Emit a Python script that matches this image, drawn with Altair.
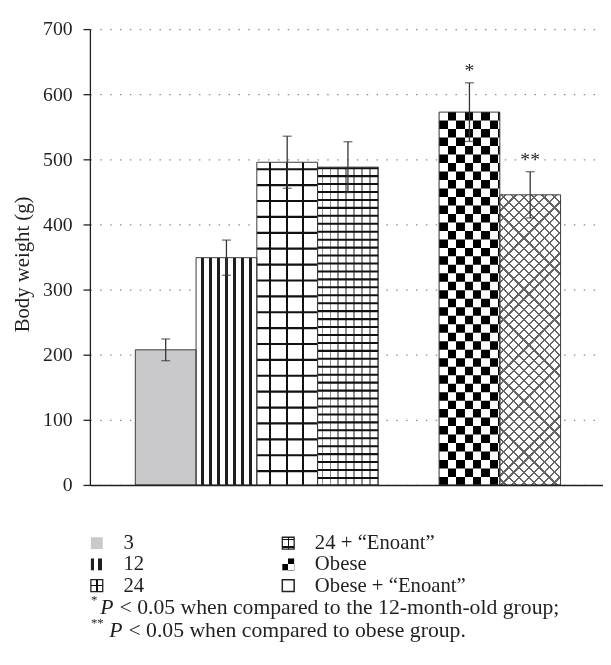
import math
import altair as alt
import pandas as pd

# ---------------- data ----------------
groups = ["3", "12", "24", "24E", "Obese", "ObeseE"]
means = [207.5, 349.0, 495.5, 488.0, 572.5, 445.5]
errors = [16.7, 27.0, 40.0, 39.0, 45.0, 35.5]
stars = ["", "", "", "", "*", "**"]
slots = ["3", "12", "24", "24E", " ", "Obese", "ObeseE"]
y_ticks = [0, 100, 200, 300, 400, 500, 600, 700]

legend_groups = ["3", "12", "24", "24E", "Obese", "ObeseE"]
legend_labels = ["3", "12", "24", "24 + \u201cEnoant\u201d", "Obese", "Obese + \u201cEnoant\u201d"]
legend_col = [0, 0, 0, 1, 1, 1]
legend_row = [0, 1, 2, 0, 1, 2]
note_marks = ["*", "**"]
note_texts = ["< 0.05 when compared to the 12-month-old group;",
              "< 0.05 when compared to obese group."]

# ---------------- layout / style ----------------
W, H = 520, 462
YMAX = 700
PO, AL = 0.723, 0.517
BW = W / (len(slots) + 2 * PO)
FONT = "Liberation Serif"
FS = 20
LFS = 21
NFS = 22
INK = "#231f20"
ERR = "#333333"
TR = "rgba(255,255,255,0)"

df = pd.DataFrame({"group": groups, "mean": means, "err": errors, "star": stars})
df["lo"] = df["mean"] - df["err"]
df["hi"] = df["mean"] + df["err"]
hmap = {g: m / YMAX * H for g, m in zip(groups, means)}


def stripes(length, start, period, thick, on, off):
    st = [(0.0, off)]
    p = start
    while p < length:
        a = max(p, 0) / length
        b = min(p + thick, length) / length
        st += [(a, off), (a, on), (b, on), (b, off)]
        p += period
    st.append((1.0, off))
    return [{"offset": round(o, 5), "color": c} for o, c in st]


def lin(stops, x1, y1, x2, y2):
    return {"gradient": "linear", "stops": stops, "x1": x1, "y1": y1, "x2": x2, "y2": y2}


def diag(w, h, spacing, thick, on, off, down):
    r = h / w
    lam = (1 + r) / (1 + r * r)
    L = (w + h) / math.sqrt(2)
    st = stripes(L, spacing / 2, spacing, thick, on, off)
    if down:
        return lin(st, 0, 1, lam, 1 - lam * r)
    return lin(st, 0, 0, lam, lam * r)


x_enc = alt.X("group:N",
              scale=alt.Scale(domain=slots, paddingInner=0, paddingOuter=PO, align=AL),
              axis=alt.Axis(title=None, labels=False, ticks=False, grid=False,
                            domainColor=INK, domainWidth=1.5, zindex=2))
y_scale = alt.Scale(domain=[0, YMAX], nice=False)
y_axis = alt.Axis(title="Body weight (g)", values=y_ticks, grid=True, gridColor="#8a8a8a",
                  gridDash=[1.5, 8.5], gridWidth=1.3, domainColor=INK, domainWidth=1.3,
                  tickColor=INK, tickWidth=1.3, tickSize=7, labelFont=FONT, labelFontSize=FS,
                  labelColor=INK, labelPadding=11, titleFont=FONT, titleFontSize=FS + 1,
                  titleFontWeight="normal", titleColor=INK, titleX=-68, titleY=238,
                  titleBaseline="middle", titleAngle=270)


def Y(field):
    return alt.Y(f"{field}:Q", scale=y_scale, axis=y_axis)


base = alt.Chart(df)


def bar(g, **kw):
    return base.transform_filter(alt.datum.group == g).mark_bar(**kw).encode(x=x_enc, y=Y("mean"))


def hlines(g, color, period, thick, offset=0.0, **kw):
    # horizontal lines across the bar: a dashed rule as wide as the bar
    return base.transform_filter(alt.datum.group == g).mark_rule(
        color=color, strokeWidth=BW, strokeCap="butt",
        strokeDash=[thick, period - thick], strokeDashOffset=offset, **kw
    ).encode(x=x_enc, y=Y("mean"), y2=alt.datum(0))


layers = [
    bar("3", fill="#c9c9cb"),
    bar("12", fill=lin(stripes(BW, 5, 8.1, 3.3, "#1e1e1e", "#ffffff"), 0, 0, 1, 0)),
    bar("24", fill=lin(stripes(BW, 12.6, 16.6, 2.2, "#111111", "#ffffff"), 0, 0, 1, 0)),
    hlines("24", "#111111", 16.1, 2.2, offset=-6.0),
    bar("24E", fill=lin(stripes(BW, 4, 8.1, 2.0, "#8f8f8f", "#ffffff"), 0, 0, 1, 0)),
    hlines("24E", "#111111", 8.05, 2.1),
    bar("Obese", fill=lin(stripes(BW, 0, 17.2, 8.6, "#000000", "#ffffff"), 0, 0, 1, 0)),
    hlines("Obese", "#ffffff", 17.2, 8.6, blend="difference"),
    bar("ObeseE", fill="#ffffff"),
    bar("ObeseE", fill=diag(BW, hmap["ObeseE"], 7.3, 1.6, "#666666", TR, True)),
    bar("ObeseE", fill=diag(BW, hmap["ObeseE"], 7.3, 1.6, "#666666", TR, False)),
    base.mark_bar(fillOpacity=0, stroke="#3a3a3a", strokeWidth=1).encode(x=x_enc, y=Y("mean")),
    base.mark_rule(color=ERR, strokeWidth=1.3).encode(x=x_enc, y=Y("lo"), y2="hi:Q"),
    base.mark_tick(color=ERR, thickness=1.3, size=9).encode(x=x_enc, y=Y("lo")),
    base.mark_tick(color=ERR, thickness=1.3, size=9).encode(x=x_enc, y=Y("hi")),
    base.mark_text(font=FONT, fontSize=FS, color=INK, baseline="alphabetic", dy=-6).encode(
        x=x_enc, y=Y("hi"), text="star:N"),
]
bars = alt.layer(*layers)

# ---------------- legend ----------------
ldf = pd.DataFrame({"group": legend_groups, "label": legend_labels,
                    "col": legend_col, "row": legend_row})
lx = alt.X("col:Q", scale=alt.Scale(domain=[0, 1], range=[7, 201], nice=False, zero=False), axis=None)
ly = alt.Y("row:Q", scale=alt.Scale(domain=[0, 2], range=[521, 564], nice=False, zero=False), axis=None)
lbase = alt.Chart(ldf)


def sw(g, **kw):
    return lbase.transform_filter(alt.datum.group == g).mark_square(
        size=144, opacity=1, **kw).encode(x=lx, y=ly)


cross_stops = [{"offset": 0, "color": TR}, {"offset": 0.44, "color": TR},
               {"offset": 0.44, "color": "#111"}, {"offset": 0.56, "color": "#111"},
               {"offset": 0.56, "color": TR}, {"offset": 1, "color": TR}]
brick_stops = [{"offset": 0, "color": TR}, {"offset": 0.12, "color": TR},
               {"offset": 0.12, "color": "#111"}, {"offset": 0.26, "color": "#111"},
               {"offset": 0.26, "color": TR}, {"offset": 0.74, "color": TR},
               {"offset": 0.74, "color": "#111"}, {"offset": 0.88, "color": "#111"},
               {"offset": 0.88, "color": TR}, {"offset": 1, "color": TR}]
half_v = [{"offset": 0, "color": "#fff"}, {"offset": 0.5, "color": "#fff"},
          {"offset": 0.5, "color": "#000"}, {"offset": 1, "color": "#000"}]
half_h = [{"offset": 0, "color": "#000"}, {"offset": 0.5, "color": "#000"},
          {"offset": 0.5, "color": "#fff"}, {"offset": 1, "color": "#fff"}]
two_bars = [{"offset": 0, "color": "#1e1e1e"}, {"offset": 0.3, "color": "#1e1e1e"},
            {"offset": 0.3, "color": "#fff"}, {"offset": 0.6, "color": "#fff"},
            {"offset": 0.6, "color": "#1e1e1e"}, {"offset": 0.9, "color": "#1e1e1e"},
            {"offset": 0.9, "color": "#fff"}, {"offset": 1, "color": "#fff"}]

legend_layers = [
    sw("3", fill="#c9c9cb"),
    sw("12", fill=lin(two_bars, 0, 0, 1, 0)),
    sw("24", fill="#ffffff", stroke="#222", strokeWidth=1.3),
    sw("24", fill=lin(cross_stops, 0, 0, 1, 0)),
    sw("24", fill=lin(cross_stops, 0, 0, 0, 1)),
    sw("24E", fill="#ffffff", stroke="#222", strokeWidth=1.3),
    sw("24E", fill=lin(brick_stops, 0, 0, 0, 1)),
    sw("24E", fill=lin(cross_stops, 0, 0, 1, 0)),
    sw("Obese", fill=lin(half_v, 0, 0, 1, 0)),
    sw("Obese", fill=lin(half_h, 0, 0, 0, 1), blend="difference"),
    sw("ObeseE", fill="#ffffff", stroke="#222", strokeWidth=1.5),
    lbase.mark_text(align="left", baseline="middle", dx=27, font=FONT, fontSize=LFS,
                    color=INK).encode(x=lx, y=ly, text="label:N"),
]
legend = alt.layer(*legend_layers)

# ---------------- footnotes ----------------
def note(txt, x, y, size=NFS, style="normal", baseline="middle"):
    return alt.Chart(pd.DataFrame({"t": [txt]})).mark_text(
        align="left", baseline=baseline, font=FONT, fontSize=size, fontStyle=style,
        color=INK).encode(x=alt.value(x), y=alt.value(y), text="t:N")


notes = alt.layer(
    note(note_marks[0], 1, 579, size=13),
    note("P", 10.5, 586, style="italic"),
    note(note_texts[0], 30, 586),
    note(note_marks[1], 1, 602, size=13),
    note("P", 19.5, 609, style="italic"),
    note(note_texts[1], 39, 609),
)

chart = alt.layer(bars, legend, notes).resolve_scale(x="independent", y="independent").properties(
    width=W, height=H,
    padding={"left": 83, "top": 17, "right": 0, "bottom": 170},
    autosize=alt.AutoSizeParams(type="none"),
).configure_view(stroke=None)

chart.save("out.html", embed_options={"renderer": "svg", "actions": False})
